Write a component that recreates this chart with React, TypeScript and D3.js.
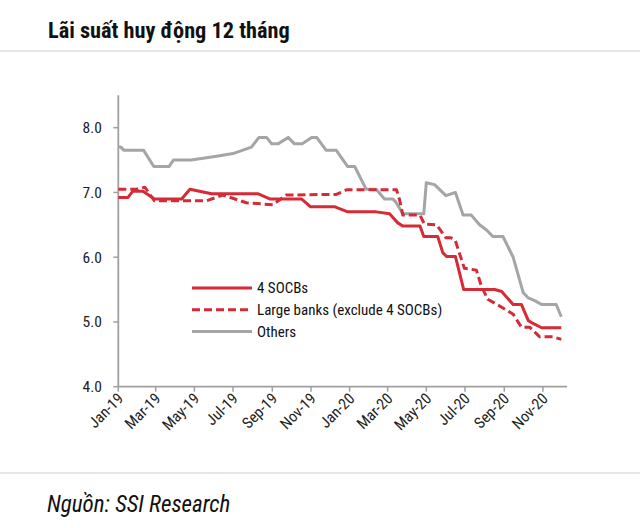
import * as d3 from "d3";

const title = "Lãi suất huy động 12 tháng";
const source = "Nguồn: SSI Research";

const seriesNames = ["4 SOCBs", "Large banks (exclude 4 SOCBs)", "Others"];
const yTicks = [4, 5, 6, 7, 8];
const xTickDates = [
  "2019-01-01", "2019-03-01", "2019-05-01", "2019-07-01", "2019-09-01", "2019-11-01",
  "2020-01-01", "2020-03-01", "2020-05-01", "2020-07-01", "2020-09-01", "2020-11-01",
];
const xTickLabels = [
  "Jan-19", "Mar-19", "May-19", "Jul-19", "Sep-19", "Nov-19",
  "Jan-20", "Mar-20", "May-20", "Jul-20", "Sep-20", "Nov-20",
];

// 4 SOCBs
const socbs: [string, number][] = [
  ["2019-01-01", 6.92], ["2019-01-16", 6.92], ["2019-01-24", 7.02], ["2019-02-09", 7.02],
  ["2019-02-27", 6.9], ["2019-04-11", 6.9], ["2019-04-24", 7.05], ["2019-05-28", 6.98],
  ["2019-08-09", 6.98], ["2019-08-28", 6.9], ["2019-10-17", 6.9], ["2019-10-31", 6.78],
  ["2019-12-08", 6.78], ["2019-12-29", 6.7], ["2020-02-12", 6.7], ["2020-03-04", 6.67],
  ["2020-03-17", 6.53], ["2020-03-25", 6.48], ["2020-04-21", 6.48], ["2020-04-27", 6.32],
  ["2020-05-19", 6.32], ["2020-05-27", 6.07], ["2020-06-02", 6.01], ["2020-06-16", 6.01],
  ["2020-06-29", 5.5], ["2020-08-17", 5.5], ["2020-08-28", 5.47], ["2020-09-15", 5.27],
  ["2020-09-28", 5.27], ["2020-10-09", 5.02], ["2020-10-14", 4.99], ["2020-10-30", 4.91],
  ["2020-11-30", 4.91],
];

// Large banks (exclude 4 SOCBs)
const largeBanks: [string, number][] = [
  ["2019-01-01", 7.05], ["2019-01-30", 7.05], ["2019-02-12", 7.08], ["2019-02-27", 6.87],
  ["2019-05-20", 6.87], ["2019-06-15", 6.96], ["2019-07-22", 6.84], ["2019-09-02", 6.81],
  ["2019-09-23", 6.96], ["2019-12-11", 6.97], ["2019-12-27", 7.04], ["2020-03-15", 7.04],
  ["2020-03-20", 6.88], ["2020-03-25", 6.65], ["2020-04-21", 6.65], ["2020-04-28", 6.51],
  ["2020-05-17", 6.5], ["2020-06-01", 6.3], ["2020-06-09", 6.3], ["2020-06-16", 6.25],
  ["2020-06-30", 5.83], ["2020-07-19", 5.8], ["2020-07-27", 5.55], ["2020-08-06", 5.35],
  ["2020-08-24", 5.25], ["2020-09-15", 5.12], ["2020-09-28", 4.92], ["2020-10-11", 4.92],
  ["2020-10-27", 4.77], ["2020-11-17", 4.77], ["2020-11-30", 4.73],
];

// Others
const others: [string, number][] = [
  ["2019-01-01", 7.7], ["2019-01-05", 7.7], ["2019-01-10", 7.65], ["2019-02-10", 7.65],
  ["2019-02-26", 7.4], ["2019-03-22", 7.4], ["2019-03-29", 7.5], ["2019-04-26", 7.5],
  ["2019-06-05", 7.56], ["2019-07-01", 7.6], ["2019-07-30", 7.7], ["2019-08-11", 7.85],
  ["2019-08-23", 7.85], ["2019-08-31", 7.75], ["2019-09-10", 7.75], ["2019-09-26", 7.85],
  ["2019-10-06", 7.75], ["2019-10-18", 7.75], ["2019-11-02", 7.85], ["2019-11-10", 7.85],
  ["2019-11-25", 7.65], ["2019-12-11", 7.65], ["2019-12-29", 7.4], ["2020-01-09", 7.4],
  ["2020-01-27", 7.05], ["2020-02-12", 7.05], ["2020-02-25", 6.9], ["2020-03-09", 6.9],
  ["2020-03-14", 6.85], ["2020-03-25", 6.67], ["2020-04-27", 6.67], ["2020-05-01", 7.15],
  ["2020-05-14", 7.12], ["2020-06-01", 6.95], ["2020-06-16", 7.0], ["2020-06-28", 6.65],
  ["2020-07-11", 6.65], ["2020-07-24", 6.5], ["2020-08-04", 6.42], ["2020-08-14", 6.32],
  ["2020-08-30", 6.32], ["2020-09-15", 6.0], ["2020-10-01", 5.45], ["2020-10-09", 5.37],
  ["2020-10-19", 5.33], ["2020-10-30", 5.27], ["2020-11-22", 5.27], ["2020-11-30", 5.08],
];

const RED = "#d52b37";
const GRAY = "#a5a5a5";
const AXIS = "#a0a0a0";
const FONT = "'Liberation Sans Narrow', 'Arial Narrow', 'Roboto Condensed', 'DejaVu Sans Condensed', sans-serif";

const parse = d3.timeParse("%Y-%m-%d");

export default function App() {
  const W = 640;
  const H = 528;
  const left = 118.3;
  const bottom = 386.7;

  const x = d3.scaleTime()
    .domain([parse("2019-01-01")!, parse("2020-12-09")!])
    .range([left, 567]);
  const y = d3.scaleLinear().domain([4, 8.5]).range([bottom, 95.3]);

  const line = d3.line<[string, number]>()
    .x((d) => x(parse(d[0])!))
    .y((d) => y(d[1]));

  const series = [
    { name: seriesNames[0], data: socbs, color: RED, dash: "none" },
    { name: seriesNames[1], data: largeBanks, color: RED, dash: "8,4" },
    { name: seriesNames[2], data: others, color: GRAY, dash: "none" },
  ];
  // gray first, reds on top
  const drawOrder = [series[2], series[1], series[0]];

  return (
    <svg width={W} height={H} style={{ position: "absolute", left: 0, top: 0, background: "#fff" }}>
      <text x={48} y={38} fontFamily={FONT} fontWeight="bold" fontSize={22.3} fill="#111">
        {title}
      </text>
      <line x1={0} x2={W} y1={51} y2={51} stroke="#e6e6e6" strokeWidth={2} />

      {/* y axis */}
      <line x1={left} x2={left} y1={y(8.5)} y2={bottom} stroke={AXIS} strokeWidth={1.8} />
      {yTicks.map((t) => (
        <g key={t}>
          <line x1={left - 5} x2={left} y1={y(t)} y2={y(t)} stroke={AXIS} strokeWidth={1.5} />
          <text x={102} y={y(t)} dy="0.35em" textAnchor="end" fontFamily={FONT} fontSize={15.5} fill="#222">
            {d3.format(".1f")(t)}
          </text>
        </g>
      ))}

      {/* x axis */}
      <line x1={left} x2={567} y1={bottom} y2={bottom} stroke={AXIS} strokeWidth={1.8} />
      {xTickDates.map((d, i) => {
        const xp = x(parse(d)!);
        return (
          <g key={d}>
            <line x1={xp} x2={xp} y1={bottom} y2={bottom + 5} stroke={AXIS} strokeWidth={1.5} />
            <text
              transform={`translate(${xp + 6},${bottom + 13}) rotate(-45)`}
              textAnchor="end"
              fontFamily={FONT}
              fontSize={15.5}
              fill="#222"
            >
              {xTickLabels[i]}
            </text>
          </g>
        );
      })}

      {drawOrder.map((s) => (
        <path
          key={s.name}
          d={line(s.data) ?? ""}
          fill="none"
          stroke={s.color}
          strokeWidth={3}
          strokeDasharray={s.dash}
          strokeLinejoin="round"
        />
      ))}

      {/* legend */}
      {series.map((s, i) => {
        const ly = 288 + i * 21.7;
        return (
          <g key={s.name}>
            <line x1={192} x2={252} y1={ly} y2={ly} stroke={s.color} strokeWidth={3} strokeDasharray={s.dash} />
            <text x={257} y={ly} dy="0.35em" fontFamily={FONT} fontSize={15} fill="#111">
              {s.name}
            </text>
          </g>
        );
      })}

      <line x1={0} x2={W} y1={473} y2={473} stroke="#e6e6e6" strokeWidth={2} />
      <text x={47} y={512} fontFamily={FONT} fontStyle="italic" fontSize={23} fill="#111">
        {source}
      </text>
    </svg>
  );
}
